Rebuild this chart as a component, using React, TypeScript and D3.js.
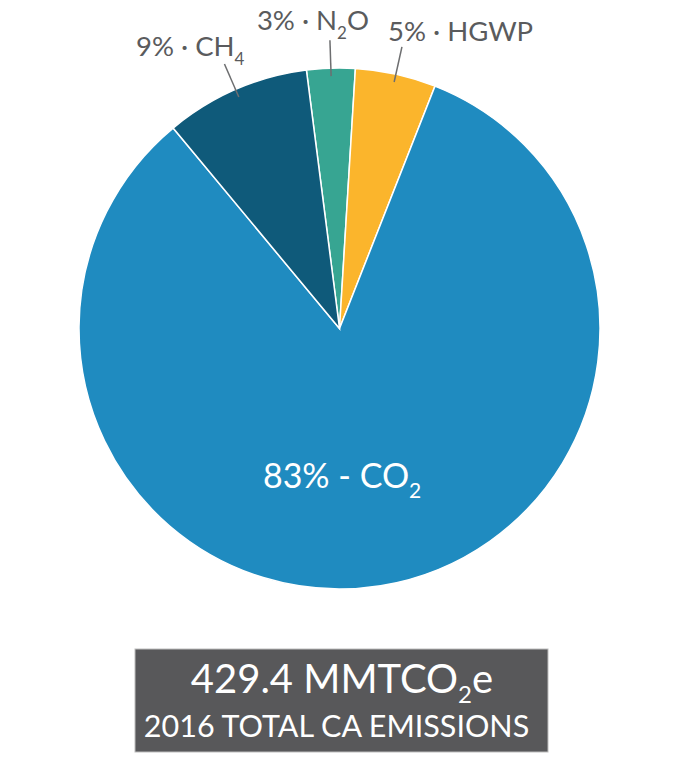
import React from "react";
import * as d3 from "d3";

const categories = ["N2O", "HGWP", "CO2", "CH4"];
const shares = [3, 5, 83, 9];
const labelMain = ["3% · N", "5% · HGWP", "83% - CO", "9% · CH"];
const labelSub = ["2", "", "2", "4"];
const labelTail = ["O", "", "", ""];
const totalValue = "429.4 MMTCO";
const totalSub = "2";
const totalTail = "e";
const subtitle = "2016 TOTAL CA EMISSIONS";

const colors: Record<string, string> = {
  N2O: "#37a592",
  HGWP: "#fbb52c",
  CO2: "#1f8bc0",
  CH4: "#0f5a7a",
};

// layout for outside labels (relative to leader-line outer end)
const outsideLayout: Record<string, { anchor: string; dx: number; dy: number }> = {
  N2O: { anchor: "middle", dx: -17, dy: -10 },
  HGWP: { anchor: "start", dx: -14, dy: -5.6 },
  CH4: { anchor: "end", dx: 20, dy: -7.6 },
};

export default function App() {
  const W = 700, H = 757;
  const cx = 339.5, cy = 328.5, r = 260.5;
  const start = (-7.3 * Math.PI) / 180;
  const pie = d3
    .pie<number>()
    .sort(null)
    .value((d) => d)
    .startAngle(start)
    .endAngle(start + 2 * Math.PI);
  const arcs = pie(shares);
  const arcGen = d3.arc<d3.PieArcDatum<number>>().innerRadius(0).outerRadius(r);
  const font = "Lato, 'Open Sans', sans-serif";
  const weight = 400;
  const textColor = "#5a5b5d";

  return (
    <svg width={W} height={H} style={{ position: "absolute", left: 0, top: 0 }}>
      <g transform={`translate(${cx},${cy})`}>
        {arcs.map((a, i) => (
          <path
            key={categories[i]}
            d={arcGen(a) || ""}
            fill={colors[categories[i]]}
            stroke="#ffffff"
            strokeWidth={1.5}
          />
        ))}
        {arcs.map((a, i) => {
          const cat = categories[i];
          const mid = (a.startAngle + a.endAngle) / 2;
          if (cat === "CO2") {
            const [x, y] = d3.arc<any>().innerRadius(0).outerRadius(r).centroid(a as any);
            return (
              <text
                key={cat}
                x={x - 18}
                y={y + 31}
                textAnchor="middle"
                fontFamily={font}
                fontWeight={weight}
                fontSize={34}
                fill="#ffffff"
              >
                {labelMain[i]}
                <tspan fontSize={21} dy={10}>{labelSub[i]}</tspan>
              </text>
            );
          }
          const r1 = r - 8, r2 = r + 28;
          const x1 = Math.sin(mid) * r1, y1 = -Math.cos(mid) * r1;
          const x2 = Math.sin(mid) * r2, y2 = -Math.cos(mid) * r2;
          const lay = outsideLayout[cat];
          return (
            <g key={cat}>
              <line x1={x1} y1={y1} x2={x2} y2={y2} stroke="#6d6e70" strokeWidth={1.5} />
              <text
                x={x2 + lay.dx}
                y={y2 + lay.dy}
                textAnchor={lay.anchor}
                fontFamily={font}
                fontWeight={weight}
                fontSize={27.5}
                fill={textColor}
              >
                {labelMain[i]}
                {labelSub[i] && <tspan fontSize={17} dy={9}>{labelSub[i]}</tspan>}
                {labelTail[i] && <tspan dy={-9}>{labelTail[i]}</tspan>}
              </text>
            </g>
          );
        })}
      </g>
      <rect x={135} y={649} width={413} height={103} fill="#58585a" stroke="#bdbdbd" strokeWidth={1} />
      <text x={342} y={693} textAnchor="middle" fontFamily={font} fontWeight={weight} fontSize={40} fill="#ffffff">
        {totalValue}
        <tspan fontSize={24} dy={10}>{totalSub}</tspan>
        <tspan dy={-10}>{totalTail}</tspan>
      </text>
      <text x={336.5} y={737} textAnchor="middle" fontFamily={font} fontWeight={weight} fontSize={30.5} fill="#ffffff">
        {subtitle}
      </text>
    </svg>
  );
}
